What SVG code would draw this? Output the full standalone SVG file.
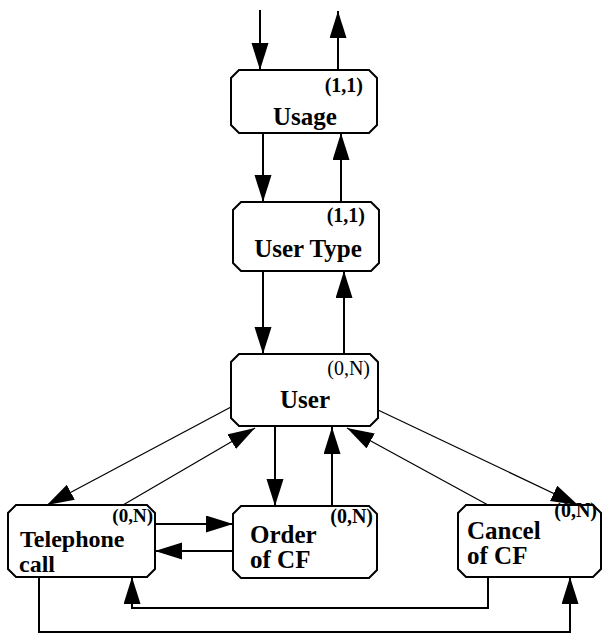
<svg xmlns="http://www.w3.org/2000/svg" width="603" height="635" viewBox="0 0 603 635">
<style>
.box{fill:#fff;stroke:#000;stroke-width:2}
.c{fill:none;stroke:#000;stroke-width:2}
.d{fill:none;stroke:#000;stroke-width:1.2}
</style>
<defs>
<marker id="ah" markerUnits="userSpaceOnUse" markerWidth="30" markerHeight="18" refX="27" refY="8.5" orient="auto">
<path d="M0,0 L27,8.5 L0,17 z" fill="#000"/>
</marker>
</defs>
<g id="connectors">
<line class="c" x1="260" y1="10" x2="260" y2="70" marker-end="url(#ah)"/>
<line class="c" x1="338" y1="70" x2="338" y2="11" marker-end="url(#ah)"/>
<line class="c" x1="263" y1="133" x2="263" y2="202" marker-end="url(#ah)"/>
<line class="c" x1="341" y1="202" x2="341" y2="133" marker-end="url(#ah)"/>
<line class="c" x1="263" y1="271" x2="263" y2="354" marker-end="url(#ah)"/>
<line class="c" x1="344" y1="354" x2="344" y2="271" marker-end="url(#ah)"/>
<line class="d" x1="231" y1="407" x2="47" y2="505" marker-end="url(#ah)"/>
<line class="d" x1="123" y1="505" x2="255" y2="428" marker-end="url(#ah)"/>
<line class="c" x1="275" y1="427" x2="275" y2="506" marker-end="url(#ah)"/>
<line class="c" x1="332" y1="506" x2="332" y2="427" marker-end="url(#ah)"/>
<line class="d" x1="378" y1="410" x2="578" y2="505" marker-end="url(#ah)"/>
<line class="d" x1="488" y1="505" x2="347" y2="428" marker-end="url(#ah)"/>
<line class="c" x1="155" y1="524" x2="233" y2="524" marker-end="url(#ah)"/>
<line class="c" x1="233" y1="551" x2="155" y2="551" marker-end="url(#ah)"/>
<polyline class="c" points="488,577 488,608 132,608 132,577" marker-end="url(#ah)"/>
<polyline class="c" points="39,577 39,632 570,632 570,577" marker-end="url(#ah)"/>
</g>
<g font-family="'Liberation Serif', 'Times New Roman', serif" fill="#000">
<g id="usage">
<path class="box" d="M239,70 H369 L377,78 V125 L369,133 H239 L231,125 V78 Z"/>
<text x="363" y="92" text-anchor="end" font-size="20" font-weight="bold">(1,1)</text>
<text x="305" y="125" text-anchor="middle" font-size="25" font-weight="bold">Usage</text>
</g>
<g id="usertype">
<path class="box" d="M241,202 H371 L379,210 V263 L371,271 H241 L233,263 V210 Z"/>
<text x="365" y="222" text-anchor="end" font-size="20" font-weight="bold">(1,1)</text>
<text x="308" y="257" text-anchor="middle" font-size="25" font-weight="bold">User Type</text>
</g>
<g id="user">
<path class="box" d="M239,354 H370 L378,362 V418 L370,426 H239 L231,418 V362 Z"/>
<text x="370" y="375" text-anchor="end" font-size="20">(0,N)</text>
<text x="305" y="408" text-anchor="middle" font-size="25" font-weight="bold">User</text>
</g>
<g id="telephone">
<path class="box" d="M16,505 H147 L155,513 V569 L147,577 H16 L8,569 V513 Z"/>
<text x="153" y="522" text-anchor="end" font-size="19" font-weight="bold">(0,N)</text>
<text x="20" y="547" font-size="24" font-weight="bold">Telephone</text>
<text x="19" y="572" font-size="24" font-weight="bold">call</text>
</g>
<g id="order">
<path class="box" d="M241,506 H369 L377,514 V570 L369,578 H241 L233,570 V514 Z"/>
<text x="373" y="523" text-anchor="end" font-size="20" font-weight="bold">(0,N)</text>
<text x="250" y="543" font-size="25" font-weight="bold">Order</text>
<text x="250" y="568" font-size="25" font-weight="bold">of CF</text>
</g>
<g id="cancel">
<path class="box" d="M466,505 H593 L601,513 V569 L593,577 H466 L458,569 V513 Z"/>
<text x="597" y="517" text-anchor="end" font-size="20" font-weight="bold">(0,N)</text>
<text x="467" y="539" font-size="25" font-weight="bold">Cancel</text>
<text x="467" y="564" font-size="25" font-weight="bold">of CF</text>
</g>
</g>
</svg>
